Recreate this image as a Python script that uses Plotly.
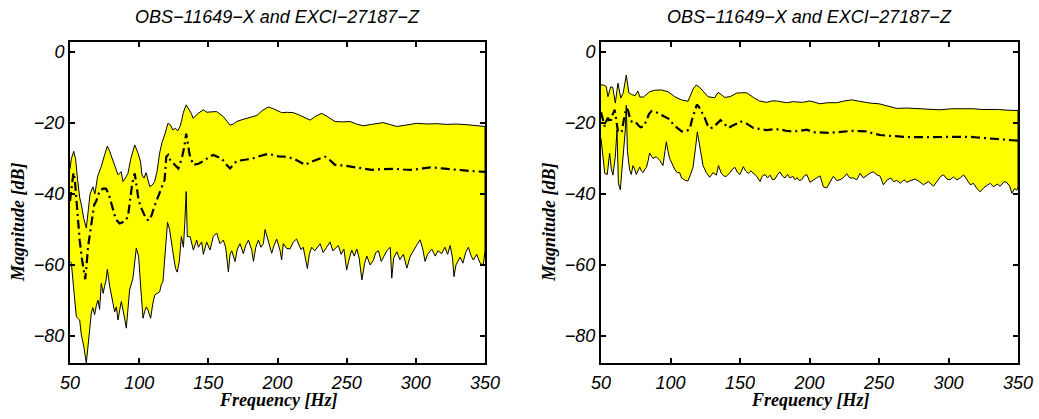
import plotly.graph_objects as go

# ---------------- data: left panel ----------------
L_up_f = [50, 51, 52.7, 54, 55.5, 57, 58.2, 60, 61.8, 63.5, 64.5, 66.6, 68, 70, 72.6, 75, 77, 78.7, 80.5, 82.3,
          84.7, 87, 88.3, 90, 91.9, 94, 96.8, 99.2, 101, 102, 103.5, 105, 107.6, 109.5, 111.2, 113, 114.8, 116.5,
          118.4, 120.8, 122.5, 124.4, 126, 128, 129.5, 130.5, 132, 134, 136, 137.7, 139, 141, 142.6, 146.4, 149,
          151.2, 156, 160.8, 165.7, 168, 170.5, 175, 180, 185, 189, 193.4, 197, 203, 207, 211.5, 216, 220, 223.6,
          228, 232, 236, 241.6, 247, 252.5, 257, 262, 268, 276.5, 281, 286.2, 293, 300.6, 308, 315, 322, 329.5,
          337, 343, 350]
L_up = [-33, -30, -28, -30, -36, -41, -43, -47, -49.6, -44, -40, -38, -40, -35, -32.3, -29, -26.5, -28, -30, -32.3,
        -34.6, -33.7, -36.5, -35.5, -34.2, -30, -26.2, -28.5, -31, -34.6, -35.5, -34, -37.9, -37.5, -36.5, -33.5,
        -28.5, -25.5, -23.4, -20.1, -20.5, -22, -21.5, -22.2, -21, -19.6, -17, -14.9, -16, -17.3, -18.7, -18,
        -17.3, -16.3, -17, -16.9, -16.8, -18.2, -20.6, -20.3, -19.6, -19, -18.5, -17.9, -16.5, -15.5, -16, -17.1,
        -17, -17.1, -17.8, -18.5, -19.2, -18, -17.3, -18.2, -19.6, -19.7, -19.6, -20.3, -20.8, -20.4, -19.9, -20.4,
        -21, -20.6, -20.1, -20.3, -20.2, -20.4, -20.3, -20.5, -20.8, -21]

L_lo_f = [50, 51, 52.5, 54.6, 57, 58.2, 60, 61.8, 63, 64.2, 65.4, 66.5, 67.8, 69, 70.2, 71.4, 72.6, 74, 75, 76, 77,
          78.7, 80, 81.1, 82.3, 83.5, 84.7, 86, 87.1, 88.3, 89.5, 90.7, 92, 93.1, 95.5, 97.9, 99.6, 100.6, 101.6,
          102.8, 104, 105.2, 106.4, 108.3, 109.8, 111.2, 113, 114.8, 116, 117.2, 118.4, 119.5, 120.5, 122, 123.5,
          125, 126.3, 127.5, 129, 130.5, 132, 133, 134, 134.8, 136.8, 138, 139.2, 141.6, 142.8, 145.2, 146.4, 148.8,
          151.2, 153.6, 156, 158.4, 160.8, 162.5, 164.5, 165.7, 166.9, 169.3, 171, 172.9, 175.3, 177, 179, 181.4,
          182.6, 184.3, 186.2, 188, 189.8, 191, 193.4, 195.8, 197.5, 199.4, 201.8, 203, 204.2, 206.5, 209, 211.5,
          213.8, 215, 217, 218.6, 220, 221.6, 223, 224.7, 227, 230.8, 233, 235.6, 238, 240, 244, 246, 248, 250, 252,
          253.7, 255.5, 257.3, 259, 261, 263, 264.6, 267, 269.4, 271, 273, 275, 276.7, 279, 281.5, 282.6, 284,
          286.3, 288.5, 291, 293.5, 296, 298.3, 300.5, 303.1, 305, 306.7, 308.5, 311.5, 314, 316, 318.7, 321, 323,
          324.8, 326.5, 327.6, 329, 332, 334, 336, 338, 340, 341.6, 344, 346.5, 348.8, 350]
L_lo = [-59, -59.5, -66, -74.6, -75.5, -79.7, -83, -87.6, -82, -78.3, -73.6, -72, -74, -71.5, -69.9, -72.5, -65.2,
        -68, -66, -64.5, -61.2, -66, -68.5, -70.8, -73.2, -71.8, -75.5, -72.5, -70.3, -72.7, -75, -77.8, -72, -67,
        -63.7, -55.3, -57.6, -63, -68.9, -75, -73, -71.8, -72.7, -75, -71, -68.5, -68, -67.6, -65.5, -64.7, -60,
        -53, -48, -50, -54, -58, -61, -62, -59, -52, -55, -48, -39.3, -52, -52, -54, -55.8, -53, -55, -53.5, -57,
        -53.5, -55.8, -52, -51, -54, -53, -55, -61.9, -57, -56, -59, -55.5, -54, -56.8, -54.5, -53, -55.8, -59,
        -55, -53, -55, -54, -50, -53, -56.7, -54.5, -52.7, -55.8, -58.6, -54, -55.3, -55.5, -53.5, -52.7, -53.5,
        -55.7, -55, -57.5, -61, -57, -55, -56, -54, -56.5, -55, -53.5, -56, -54.5, -57, -55.5, -61.4, -58, -55.8,
        -57.5, -55.5, -58, -64.2, -59.5, -57.5, -60, -58.6, -56.5, -56, -59, -57.7, -56, -55, -63.7, -58, -56.3,
        -58.5, -57, -60.9, -57.5, -55.8, -54.5, -52.9, -55.5, -59, -57, -55.5, -57.5, -56, -56.8, -55, -57, -54.5,
        -58, -63.3, -60, -57.8, -59.5, -56.5, -55, -57.5, -58.6, -57, -59.5, -60, -56]

L_mean_f = [50, 51, 52.5, 53.5, 54.5, 55.5, 57, 58.5, 60, 61, 62, 63, 64.5, 66, 67.5, 69, 71.5, 74, 76, 78, 79.9,
            82.3, 84, 85.9, 88, 90, 91.9, 93.5, 95, 96.8, 98, 99.5, 101, 103, 105, 107, 109, 111, 113.6, 116, 118.4,
            119.6, 121, 122.5, 124.7, 126.5, 128.3, 130.8, 132.5, 134, 135, 136.5, 139.2, 142.8, 147.6, 150.5, 153.6,
            159.6, 162.5, 165.7, 168, 170.5, 177.7, 182, 187.4, 193.4, 200.6, 205, 211.5, 216, 220, 224, 228.5,
            234.3, 238, 241.6, 248, 254.9, 261, 268.2, 276, 283.8, 291, 298.3, 305, 311.5, 319, 327.2, 333, 339.2,
            344, 348.8, 350]
L_mean = [-42, -38, -34, -36, -41, -48, -53, -58, -62, -64, -60, -55, -51, -47, -43, -42, -39, -38.5, -38.5, -40,
          -42.6, -46, -47.5, -48.3, -48, -47.5, -46.4, -42, -37, -34.2, -37, -41.5, -43.5, -45.5, -47, -47.5, -46,
          -43.5, -40.8, -38.5, -36, -29.5, -29, -30.5, -31.4, -32.3, -32.8, -30, -27, -23, -25, -29, -31.8, -31.5,
          -30.5, -29.5, -29, -30, -31.5, -32.8, -31.8, -30.7, -30.3, -30, -29.3, -28.7, -29.4, -29.5, -30, -31,
          -31.8, -31, -30.3, -29.5, -30.5, -31.8, -32, -32.4, -32.8, -33.2, -33, -32.9, -33.1, -33.2, -32.8, -32.5,
          -32.8, -33.2, -33.3, -33.5, -33.6, -33.7, -33.8]

# ---------------- data: right panel ----------------
R_up_f = [50, 52, 53.8, 55, 57, 58.5, 60.3, 62.2, 64.2, 66, 68.2, 70, 72, 74.5, 76.5, 78, 80.5, 83, 85, 88.5, 93.4,
          98.2, 103, 107.8, 112.6, 116.2, 118.5, 120.5, 123.4, 127, 131.8, 134.2, 136.5, 139, 142.8, 147.6, 151,
          154.8, 159.6, 164, 169.2, 173, 176.4, 183.6, 188.4, 195, 200.4, 207.6, 213, 219.6, 225, 230.4, 236, 243.6,
          250, 256, 262.8, 270, 277, 285, 293.9, 302, 310.6, 318, 324, 329.8, 336, 342, 350]
R_up = [-9.3, -9.3, -9.8, -12.6, -9.8, -10, -14.4, -8.8, -13, -11.5, -6.5, -11.5, -12, -12.3, -11, -12.7, -12.7,
        -11.8, -11.2, -10.8, -10.7, -11.2, -12.6, -13.5, -13.9, -10.5, -9.3, -9.8, -11, -12.6, -12.9, -11.4, -12,
        -12.8, -12.6, -11.6, -11.5, -11.5, -12.8, -13.8, -14.2, -13.8, -13.8, -14.3, -14, -14.2, -13.8, -14.6,
        -14.3, -14.3, -13.8, -13.5, -13.9, -14.4, -14.6, -15.2, -15.9, -15.8, -15.9, -16.1, -16.3, -16, -15.9,
        -16, -16.2, -16.1, -16.2, -16.4, -16.5]

R_lo_f = [50, 51.4, 52.7, 54.5, 56.2, 57.4, 58.6, 60.3, 61.5, 62.5, 63.9, 65.1, 66.5, 67.5, 68.2, 69, 70.6, 71.8,
          73, 74.2, 75.4, 76.5, 77.9, 79, 80.3, 81.5, 82.7, 84, 85, 86, 87.4, 89.8, 92.2, 94.6, 96, 97, 98.2, 99.4,
          101, 103, 104.8, 106.6, 108, 109, 110.8, 112.6, 114.4, 116.2, 118, 119.3, 120.5, 121.8, 123.4, 125.8,
          128.2, 130.6, 133, 134.5, 136.6, 138.5, 140.2, 142.8, 144.5, 146.4, 148.2, 150, 152.4, 154, 156, 157.8,
          159.6, 162, 164.4, 166, 168, 169.8, 171.6, 173.4, 175.2, 177, 178.8, 180.6, 182.4, 184.2, 186, 188,
          189.6, 191, 192.5, 194.4, 196, 198, 200.4, 202.8, 205, 207.6, 210, 212.4, 214.8, 217.2, 219.5, 222,
          224.4, 226.8, 229, 231.6, 234, 236.4, 238.8, 241.2, 244, 246, 248, 250.8, 253.2, 256, 258.5, 260.5,
          262.8, 265.5, 268, 270, 273, 276, 279, 282, 285.5, 289.2, 292, 294.5, 296.4, 298.8, 301.2, 303.5, 306,
          308.5, 310.8, 313, 315.6, 318, 320.5, 322.8, 325.5, 328, 330, 332.5, 335, 337.2, 340, 342, 344, 345.6,
          347.5, 349.2, 350]
R_lo = [-24.3, -29.5, -34.2, -34.5, -28.5, -32.9, -34.7, -29.5, -22, -37, -38.8, -33, -27.5, -22, -15, -28, -33.2,
        -34.5, -32, -33, -34.5, -33.5, -32.4, -33.5, -34, -33, -32.5, -30.5, -28.5, -29, -30, -29.5, -30.5, -32,
        -28, -25.3, -28, -30, -31.5, -33, -34, -34, -35.5, -35.6, -36.2, -36.3, -34.5, -32.5, -27, -22.5, -25, -28,
        -32, -34, -35.3, -34, -34.7, -32, -34.2, -35, -35, -34, -33, -32.5, -34, -34.5, -32.3, -33.5, -34.2, -33.5,
        -34.2, -35, -36.5, -35, -34.5, -35.5, -34.7, -36, -35.8, -34.5, -33.8, -35, -35.5, -34.5, -35.5, -35, -36,
        -35.4, -36.2, -36, -35, -34.5, -36.7, -36, -35.5, -34.9, -38, -38.3, -36.5, -35, -36.2, -36, -35.4, -34.3,
        -35.5, -35.5, -36, -34.2, -35.5, -34.8, -34, -33.8, -34.5, -35, -37.4, -36, -35.5, -36.5, -36.2, -37, -36,
        -36.7, -36.2, -35.8, -36.5, -37.4, -36.5, -37.8, -36.5, -35, -34.6, -35.8, -36, -35.2, -36, -35.5, -34.6,
        -35.8, -37.4, -37, -38.5, -39.4, -38.2, -37.5, -37, -38, -37.2, -37.8, -36.5, -36.8, -37.8, -39.8, -38.5,
        -38.9, -38]

R_mean_f = [50, 51.4, 52.7, 53.8, 55, 56.5, 57.4, 58.5, 59.9, 61, 62.2, 63.5, 64.9, 66.5, 68.2, 69.5, 71, 72.1,
            74.5, 76.5, 78.5, 80.5, 82.5, 84.5, 86.5, 89.8, 93.4, 96, 99.6, 102, 105, 108, 111, 113.8, 115.5, 117.4,
            119, 120.5, 122.5, 124.6, 126.5, 128.4, 130.6, 133.2, 136, 139, 141.6, 144.5, 147.6, 150, 154.8, 159.6,
            164.4, 169.2, 174, 178.8, 183, 188.4, 193.2, 198, 202.8, 210, 215, 219.6, 226.8, 231.6, 236, 241.2, 246,
            250.8, 256, 262.8, 267, 272.4, 278, 282, 288, 294, 300, 306, 312, 315.6, 321, 327.6, 332, 337.2, 342,
            346, 350]
R_mean = [-17, -19, -21, -19.5, -18.5, -20, -18.8, -17.5, -16.3, -20, -22.4, -22.8, -22.4, -19, -15.8, -16.5, -19,
          -19.6, -19.5, -20.5, -21.2, -21, -19.5, -17.5, -16.6, -17, -17.8, -18.4, -19, -20.5, -21.5, -22.4, -22.3,
          -21.8, -19, -16.3, -14.8, -15.5, -16.8, -18.5, -20.5, -21.5, -21.3, -20.2, -19.2, -20.3, -21.4, -20.8,
          -20.2, -19.5, -20.2, -21.4, -21.6, -22, -21.8, -21.8, -22.2, -22.4, -22.2, -21.9, -22.6, -22.8, -22.8,
          -22.6, -22.4, -22.2, -22.3, -22.4, -23, -23.4, -23.6, -23.8, -23.9, -24, -24, -24, -23.9, -23.8, -23.8,
          -23.8, -23.9, -23.9, -24.1, -24.3, -24.5, -24.5, -24.7, -24.9, -25]

TITLE = "OBS\u221211649\u2212X and EXCI\u221227187\u2212Z"
X_TICKS = [50, 100, 150, 200, 250, 300, 350]
Y_TICKS = [0, -20, -40, -60, -80]

W, H = 1039, 419
fig = go.Figure()


def add_panel(fig, xa, ya, up_f, up, lo_f, lo, m_f, m):
    poly_x = list(up_f) + list(reversed(lo_f))
    poly_y = list(up) + list(reversed(lo))
    fig.add_trace(go.Scatter(x=poly_x, y=poly_y, mode="lines", fill="toself",
                             fillcolor="#FFFF00", line=dict(color="black", width=1),
                             xaxis=xa, yaxis=ya, hoverinfo="skip", showlegend=False))
    fig.add_trace(go.Scatter(x=m_f, y=m, mode="lines",
                             line=dict(color="black", width=2.2, dash="9px,4px,2px,4px"),
                             xaxis=xa, yaxis=ya, showlegend=False))


add_panel(fig, "x", "y", L_up_f, L_up, L_lo_f, L_lo, L_mean_f, L_mean)
add_panel(fig, "x2", "y2", R_up_f, R_up, R_lo_f, R_lo, R_mean_f, R_mean)

tickfont = dict(family="Liberation Sans, Arial", size=18, color="black", style="italic")
ax_common = dict(showline=True, linewidth=2, linecolor="black", mirror="allticks",
                 ticks="inside", ticklen=5, tickwidth=1.5, tickcolor="black",
                 showgrid=False, zeroline=False, tickfont=tickfont, automargin=False)

py0, py1 = 1 - 363 / H, 1 - 42 / H
fig.update_layout(
    template="none",
    width=W, height=H,
    margin=dict(l=0, r=0, t=0, b=0, pad=0, autoexpand=False),
    paper_bgcolor="white", plot_bgcolor="white",
    showlegend=False,
    xaxis=dict(domain=[70 / W, 485 / W], range=[50, 350], tickvals=X_TICKS, anchor="y",
               ticklabelstandoff=2, **ax_common),
    yaxis=dict(domain=[py0, py1], range=[-87.6, 2.8], tickvals=Y_TICKS, anchor="x", **ax_common),
    xaxis2=dict(domain=[601 / W, 1018 / W], range=[50, 350], tickvals=X_TICKS, anchor="y2",
                ticklabelstandoff=2, **ax_common),
    yaxis2=dict(domain=[py0, py1], range=[-87.6, 2.8], tickvals=Y_TICKS, anchor="x2", **ax_common),
)

title_font = dict(family="Liberation Sans, Arial", size=18, color="black", style="italic")
label_font = dict(family="Liberation Serif, Times New Roman", size=18, color="black",
                  style="italic", weight="bold")
annos = []
for cx, yl_x in [(277.5, 18), (809.5, 549)]:
    annos.append(dict(text=TITLE, x=cx / W, y=1 - 17 / H, xref="paper", yref="paper",
                      xanchor="center", yanchor="middle", showarrow=False, font=title_font))
    annos.append(dict(text="Frequency [Hz]", x=cx / W, y=1 - 400 / H, xref="paper", yref="paper",
                      xanchor="center", yanchor="middle", showarrow=False, font=label_font))
    annos.append(dict(text="Magnitude [dB]", x=yl_x / W, y=1 - 222 / H, xref="paper", yref="paper",
                      xanchor="center", yanchor="middle", showarrow=False, textangle=-90, font=label_font))
fig.update_layout(annotations=annos)

fig.write_html("out.html", config={"displayModeBar": False},
               post_script="document.body.style.margin='0px';")
